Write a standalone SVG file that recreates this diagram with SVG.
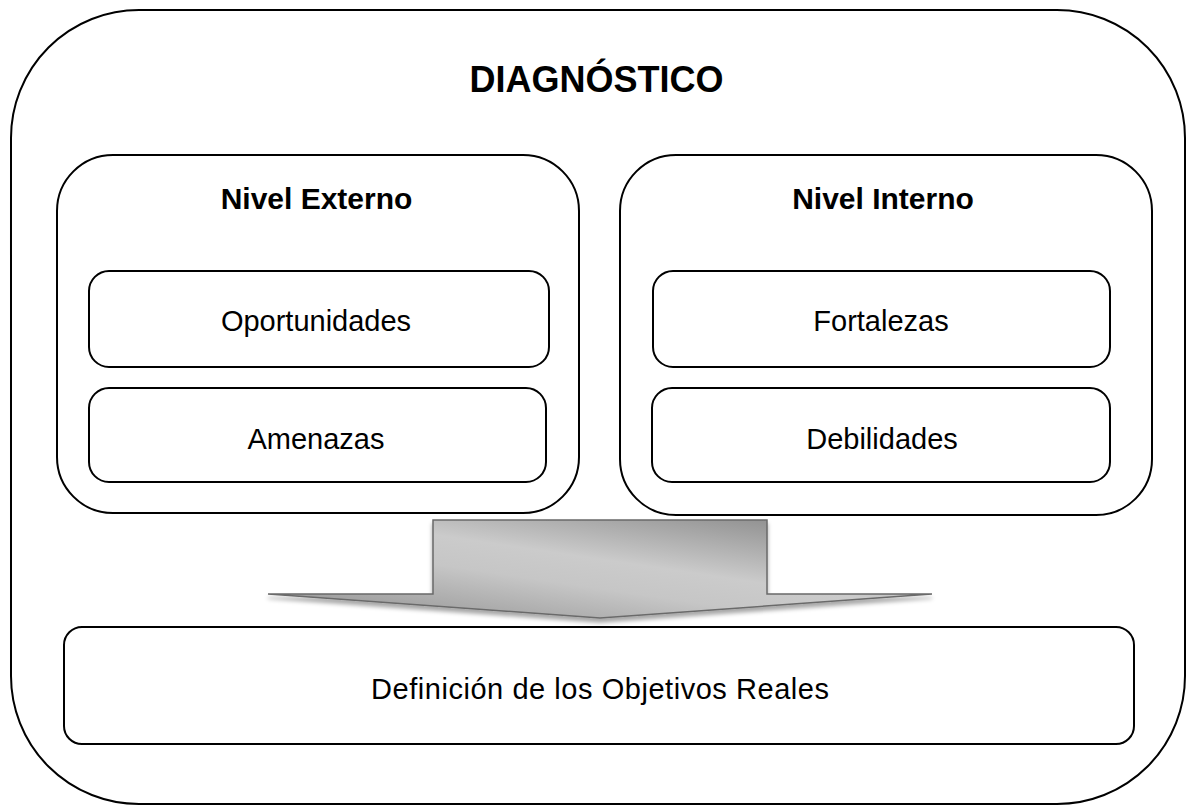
<svg xmlns="http://www.w3.org/2000/svg" width="1188" height="806" viewBox="0 0 1188 806">
<defs>
<style>
.box{fill:#fff;stroke:#000;stroke-width:2}
.t{font-family:"Liberation Sans",Arial,sans-serif;fill:#000;text-anchor:middle;font-size:29px}
.b{font-weight:bold}
</style>
<linearGradient id="ag" x1="1" y1="0" x2="0" y2="1">
<stop offset="0" stop-color="#7d7d7d"/>
<stop offset="0.45" stop-color="#cbcbcb"/>
<stop offset="0.6" stop-color="#c6c6c6"/>
<stop offset="1" stop-color="#8c8c8c"/>
</linearGradient>
<filter id="sh" x="-10%" y="-10%" width="120%" height="140%">
<feDropShadow dx="0" dy="4" stdDeviation="2" flood-color="#000" flood-opacity="0.35"/>
</filter>
</defs>
<g id="diagnostico">
<rect class="box" x="11" y="10" width="1174" height="794" rx="128" ry="128"/>
<text class="t b" x="596.5" y="92" style="font-size:36px">DIAGNÓSTICO</text>
</g>
<g id="nivel-externo">
<rect class="box" x="57" y="155" width="522" height="358" rx="56" ry="56"/>
<text class="t b" x="316.5" y="209" style="font-size:30px">Nivel Externo</text>
</g>
<g id="nivel-interno">
<rect class="box" x="620" y="155" width="532" height="360" rx="56" ry="56"/>
<text class="t b" x="883" y="209" style="font-size:30px">Nivel Interno</text>
</g>
<g id="oportunidades">
<rect class="box" x="89" y="271" width="460" height="96" rx="20" ry="20"/>
<text class="t" x="316" y="331">Oportunidades</text>
</g>
<g id="amenazas">
<rect class="box" x="89" y="388" width="457" height="94" rx="20" ry="20"/>
<text class="t" x="316" y="449">Amenazas</text>
</g>
<g id="fortalezas">
<rect class="box" x="653" y="271" width="457" height="96" rx="20" ry="20"/>
<text class="t" x="881" y="331">Fortalezas</text>
</g>
<g id="debilidades">
<rect class="box" x="652" y="388" width="458" height="94" rx="20" ry="20"/>
<text class="t" x="882" y="449">Debilidades</text>
</g>
<g id="connectors">
<path d="M433,520 L767,520 L767,594 L932,594 L600,618 L268,594 L433,594 Z" fill="url(#ag)" stroke="#6a6a6a" stroke-width="1.5" filter="url(#sh)"/>
</g>
<g id="objetivos">
<rect class="box" x="64" y="627" width="1070" height="117" rx="18" ry="18"/>
<text class="t" x="600" y="699" textLength="458">Definición de los Objetivos Reales</text>
</g>
</svg>
